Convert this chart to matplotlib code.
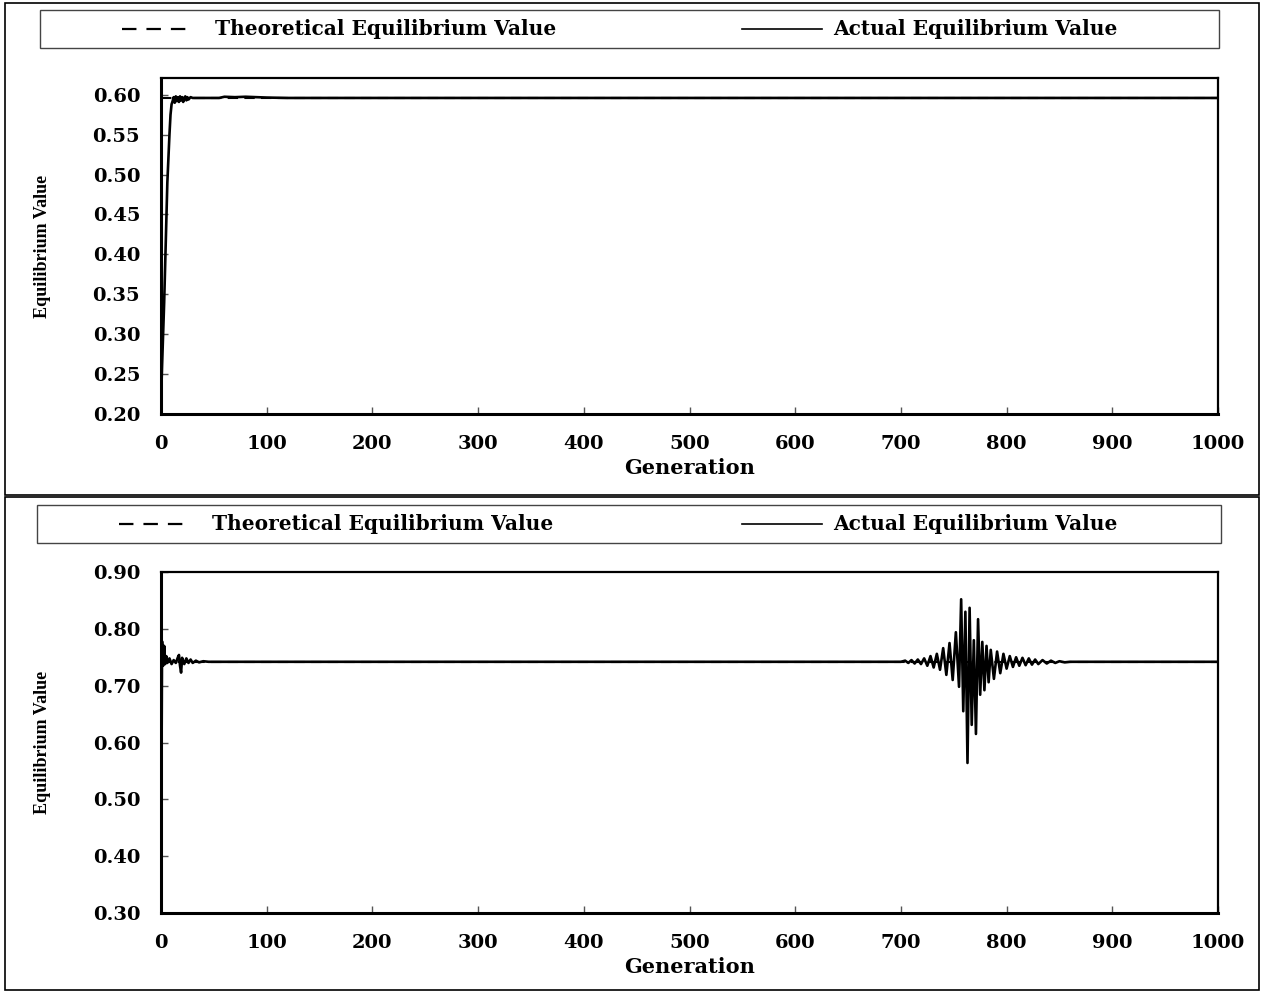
import matplotlib
matplotlib.use("Agg")
import matplotlib.pyplot as plt
from matplotlib.lines import Line2D
from matplotlib.patches import Rectangle

# ── Data ─────────────────────────────────────────────────────────────────────

series_labels = ["Theoretical Equilibrium Value", "Actual Equilibrium Value"]

# top panel
top_theory = 0.596
top_gen = [0, 1, 2, 3, 4, 5, 6, 7, 8, 9, 10, 11, 12, 13, 14, 15, 16, 17, 18,
           19, 20, 21, 22, 23, 24, 25, 26, 28, 30, 40, 55, 60, 70, 80, 90,
           100, 120, 1000]
top_actual = [0.215, 0.26, 0.30, 0.34, 0.39, 0.44, 0.49, 0.52, 0.55, 0.575,
              0.588, 0.592, 0.597, 0.590, 0.598, 0.592, 0.597, 0.591, 0.598,
              0.593, 0.597, 0.591, 0.596, 0.598, 0.593, 0.597, 0.594, 0.597,
              0.596, 0.596, 0.596, 0.5975, 0.597, 0.5975, 0.597, 0.5965,
              0.596, 0.596]
top_yticks = [0.20, 0.25, 0.30, 0.35, 0.40, 0.45, 0.50, 0.55, 0.60]

# bottom panel
bot_theory = 0.742
bot_gen = [0, 1, 2, 3, 4, 5, 6, 8, 10, 12, 14, 16, 17, 18, 19, 20, 22, 24,
           26, 28, 30, 33, 36, 40, 45,
           700, 704, 707, 710, 713, 716, 719, 722, 725, 728, 731, 734, 737,
           740, 743, 746, 749, 752, 755, 757, 759, 761, 763, 765, 767, 769,
           771, 773, 775, 777, 779, 781, 783, 785, 788, 791, 794, 797, 800,
           803, 806, 809, 812, 815, 818, 821, 824, 827, 830, 834, 838, 842,
           846, 850, 855, 860, 1000]
bot_actual = [0.34, 0.778, 0.735, 0.770, 0.738, 0.752, 0.740, 0.748, 0.738,
              0.745, 0.740, 0.750, 0.754, 0.735, 0.723, 0.749, 0.738, 0.748,
              0.740, 0.746, 0.740, 0.744, 0.741, 0.743, 0.742,
              0.742, 0.744, 0.740, 0.745, 0.739, 0.746, 0.738, 0.748, 0.735,
              0.752, 0.732, 0.756, 0.728, 0.766, 0.719, 0.775, 0.710, 0.794,
              0.698, 0.852, 0.655, 0.830, 0.564, 0.837, 0.631, 0.780, 0.615,
              0.817, 0.684, 0.777, 0.692, 0.770, 0.706, 0.763, 0.712, 0.760,
              0.722, 0.756, 0.730, 0.752, 0.733, 0.750, 0.735, 0.749, 0.736,
              0.748, 0.737, 0.746, 0.738, 0.745, 0.739, 0.744, 0.740, 0.743,
              0.741, 0.742, 0.742]
bot_yticks = [0.30, 0.40, 0.50, 0.60, 0.70, 0.80, 0.90]

x_ticks = list(range(0, 1001, 100))

# ── Styling ──────────────────────────────────────────────────────────────────

W, H = 1267, 992
WIDE = "DejaVu Serif"
NARROW = "Liberation Serif"
TICK_FS = 14
LEG_FS = 14.5


def fx(px):
    return px / W


def fy(py):
    return 1 - py / H


fig = plt.figure(figsize=(W / 100, H / 100), dpi=100)


def panel(frame_y, legend_box, ax_box, gens, vals, theory, ylim, yticks):
    # outer frame of the panel
    y0, y1 = frame_y
    fig.add_artist(Rectangle((fx(5), fy(y1)), fx(1259) - fx(5), fy(y0) - fy(y1),
                             transform=fig.transFigure, fill=False,
                             edgecolor="black", linewidth=1.2))

    # legend box
    lx0, ly0, lx1, ly1 = legend_box
    fig.add_artist(Rectangle((fx(lx0), fy(ly1)), fx(lx1) - fx(lx0), fy(ly0) - fy(ly1),
                             transform=fig.transFigure, fill=False,
                             edgecolor="#444444", linewidth=1.0))
    ym = fy((ly0 + ly1) / 2)
    fig.add_artist(Line2D([fx(lx0 + 82), fx(lx0 + 152)], [ym, ym], transform=fig.transFigure,
                          color="black", linewidth=1.6, linestyle=(0, (6.5, 4.5))))
    fig.text(fx(lx0 + 175), ym, series_labels[0], fontfamily=WIDE, fontweight="bold",
             fontsize=LEG_FS, va="center", ha="left")
    fig.add_artist(Line2D([fx(742), fx(822)], [ym, ym], transform=fig.transFigure,
                          color="black", linewidth=1.2))
    fig.text(fx(833), ym, series_labels[1], fontfamily=WIDE, fontweight="bold",
             fontsize=LEG_FS, va="center", ha="left")

    # plot area
    ax_l, ax_t, ax_r, ax_b = ax_box
    ax = fig.add_axes([fx(ax_l), fy(ax_b), fx(ax_r) - fx(ax_l), fy(ax_t) - fy(ax_b)])
    ax.plot([0, 1000], [theory, theory], color="black", linewidth=1.5,
            linestyle=(0, (5, 3)), zorder=2)
    ax.plot(gens, vals, color="black", linewidth=1.9, zorder=3)
    ax.set_xlim(0, 1000)
    ax.set_ylim(*ylim)
    ax.set_xticks(x_ticks)
    ax.set_yticks(yticks)
    ax.set_xticklabels([str(t) for t in x_ticks])
    ax.set_yticklabels([f"{t:.2f}" for t in yticks])
    for lab in ax.get_xticklabels() + ax.get_yticklabels():
        lab.set_fontfamily(WIDE)
        lab.set_fontweight("bold")
        lab.set_fontsize(TICK_FS)
    ax.tick_params(direction="in", length=5, width=1, color="#555555", pad=15)
    for side in ["left", "bottom"]:
        ax.spines[side].set_linewidth(2.2)
    for side in ["top", "right"]:
        ax.spines[side].set_linewidth(1.6)
    ax.set_xlabel("Generation", fontfamily=WIDE, fontweight="bold", fontsize=15, labelpad=4)
    ax.set_ylabel("Equilibrium Value", fontfamily=NARROW, fontweight="bold", fontsize=13)
    ax.yaxis.set_label_coords((51 - ax_l) / (ax_r - ax_l), 0.5)
    return ax


panel((3, 495), (40, 10, 1219, 48), (161, 78, 1218, 414),
      top_gen, top_actual, top_theory, (0.20, 0.621), top_yticks)
panel((497, 990), (37, 505, 1221, 543), (161, 572, 1218, 913),
      bot_gen, bot_actual, bot_theory, (0.30, 0.90), bot_yticks)

fig.savefig("out.png", dpi=100)
